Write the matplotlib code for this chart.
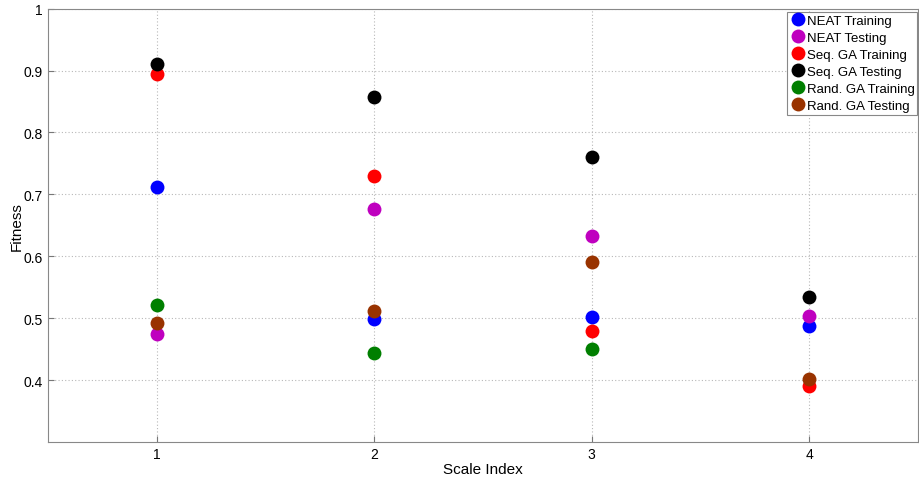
import matplotlib.pyplot as plt
import numpy as np

plt.rcParams['font.family'] = ['Liberation Sans', 'DejaVu Sans']

scale = [1, 2, 3, 4]
neat_train = [0.712, 0.499, 0.502, 0.488]
neat_test = [0.475, 0.676, 0.632, 0.504]
seq_train = [0.895, 0.729, 0.479, 0.390]
seq_test = [0.911, 0.858, 0.760, 0.534]
rand_train = [0.522, 0.443, 0.451, np.nan]
rand_test = [0.492, 0.512, 0.591, 0.401]

series = [
    ('NEAT Training', neat_train, '#0000ff'),
    ('NEAT Testing', neat_test, '#bf00bf'),
    ('Seq. GA Training', seq_train, '#ff0000'),
    ('Seq. GA Testing', seq_test, '#000000'),
    ('Rand. GA Training', rand_train, '#007f00'),
    ('Rand. GA Testing', rand_test, '#993300'),
]

fig = plt.figure(figsize=(9.19, 4.81), dpi=100)
ax = fig.add_axes([0.0522, 0.079, 0.9467, 0.901])

for name, vals, col in series:
    ax.plot(scale, vals, 'o', color=col, markersize=10, markeredgewidth=0, label=name)

ax.set_xlim(0.5, 4.5)
ax.set_ylim(0.3, 1.0)
ax.set_xticks(scale)
ax.set_yticks([0.4, 0.5, 0.6, 0.7, 0.8, 0.9, 1.0])
ax.set_yticklabels(['0.4', '0.5', '0.6', '0.7', '0.8', '0.9', '1'])
ax.grid(True, linestyle=(0, (1, 2)), color='#b8b8b8', linewidth=0.8)
ax.tick_params(direction='in', labelsize=10, length=4, color='#777777')
for s in ax.spines.values():
    s.set_color('#888888')
ax.set_xlabel('Scale Index', fontsize=11, labelpad=1)
ax.set_ylabel('Fitness', fontsize=11)
ax.yaxis.set_label_coords(-0.028, 0.5)

leg = ax.legend(loc='upper right', bbox_to_anchor=(0.999, 0.992), fontsize=9.5,
                handletextpad=0.0, borderpad=0.2, labelspacing=0.36,
                handlelength=1.3, borderaxespad=0.0,
                fancybox=False, framealpha=1, numpoints=1)
leg.get_frame().set_edgecolor('#888888')
leg.get_frame().set_linewidth(0.8)

fig.savefig('out.png', dpi=100)
